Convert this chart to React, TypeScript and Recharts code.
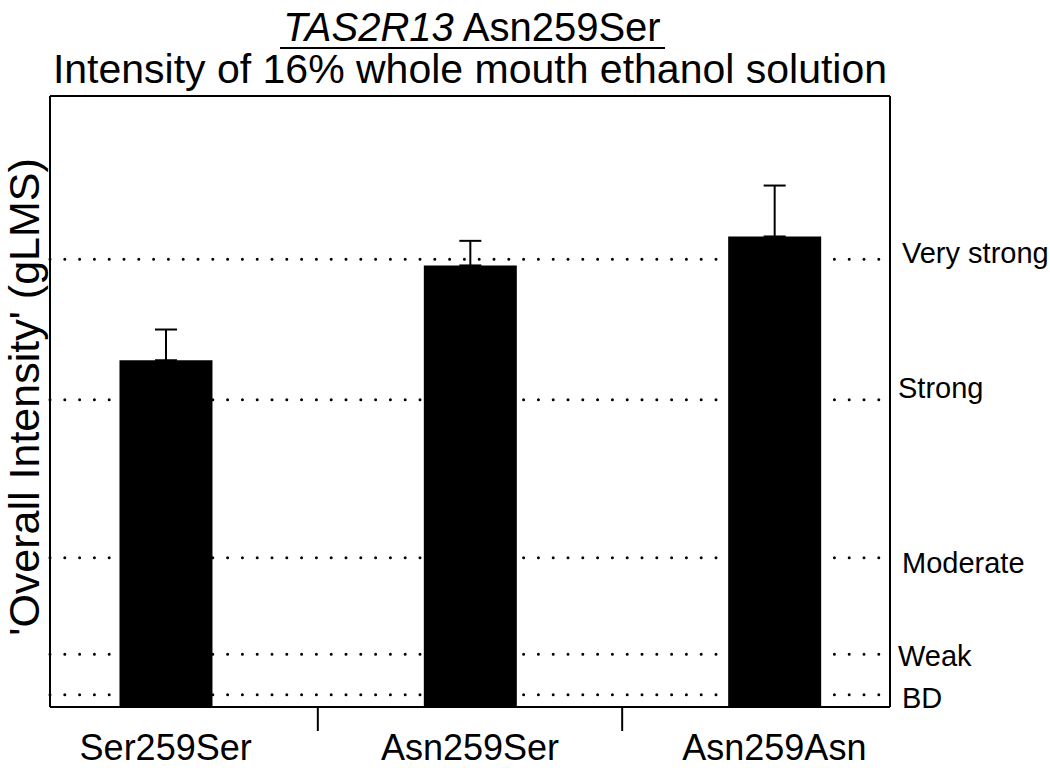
import React from 'react';
import {
  BarChart, Bar, XAxis, YAxis, ReferenceLine, ErrorBar,
} from 'recharts';

// genotype groups and gLMS intensity (mean, upper SEM)
const genotypes = ['Ser259Ser', 'Asn259Ser', 'Asn259Asn'];
const meanIntensity = [39.5, 50.3, 53.6];
const upperError = [3.5, 2.8, 5.8];

// gLMS descriptor anchors
const gLmsLabels = ['BD', 'Weak', 'Moderate', 'Strong', 'Very strong'];
const gLmsValues = [1.4, 6, 17, 35, 51];

const FONT = '"Liberation Sans", Arial, Helvetica, sans-serif';

// small nudges so the descriptor labels sit like the original
const labelNudge: Record<string, { dx: number; dy: number }> = {
  'BD': { dx: 12, dy: 3 },
  'Weak': { dx: 8, dy: 2 },
  'Moderate': { dx: 12, dy: 5 },
  'Strong': { dx: 8, dy: -12 },
  'Very strong': { dx: 12, dy: -6 },
};

const chartData = genotypes.map((g, i) => ({
  pos: i,
  name: g,
  mean: meanIntensity[i],
  err: [0, upperError[i]],
}));

function GenotypeTick({ x, y, payload }: any) {
  const v = payload.value;
  if (Number.isInteger(v)) {
    return (
      <text x={x} y={y + 53} textAnchor="middle" fontFamily={FONT} fontSize={36} fill="#000">
        {genotypes[v]}
      </text>
    );
  }
  return <line x1={x} x2={x} y1={y} y2={y + 24} stroke="#000" strokeWidth={2} />;
}

function DescriptorTick({ x, y, payload }: any) {
  const idx = gLmsValues.indexOf(payload.value);
  const label = gLmsLabels[idx];
  const n = labelNudge[label] || { dx: 10, dy: 0 };
  return (
    <text x={x + n.dx} y={y + n.dy} dominantBaseline="central" fontFamily={FONT} fontSize={29} fill="#000">
      {label}
    </text>
  );
}

const frameLine = { stroke: '#000', strokeWidth: 2 };

export default function App() {
  return (
    <div style={{ position: 'absolute', left: 0, top: 0, width: 1050, height: 768, background: '#fff' }}>
      <BarChart
        width={1050}
        height={768}
        data={chartData}
        margin={{ top: 95, right: 159, bottom: 0, left: 49 }}
      >
        <XAxis
          xAxisId="bottom"
          dataKey="pos"
          type="number"
          domain={[-0.38, 2.38]}
          ticks={[0, 0.5, 1, 1.5, 2]}
          interval={0}
          tick={<GenotypeTick />}
          tickLine={false}
          tickSize={0}
          tickMargin={0}
          height={61}
          axisLine={frameLine}
          allowDataOverflow
        />
        <XAxis
          xAxisId="top"
          orientation="top"
          dataKey="pos"
          type="number"
          domain={[-0.38, 2.38]}
          tick={false}
          tickLine={false}
          height={1}
          axisLine={frameLine}
        />
        <YAxis
          yAxisId="left"
          domain={[0, 69.6]}
          ticks={gLmsValues}
          tick={false}
          tickLine={false}
          width={1}
          axisLine={frameLine}
          allowDataOverflow
        />
        <YAxis
          yAxisId="right"
          orientation="right"
          domain={[0, 69.6]}
          ticks={gLmsValues}
          interval={0}
          tick={<DescriptorTick />}
          tickLine={false}
          tickSize={0}
          tickMargin={0}
          width={1}
          axisLine={frameLine}
          allowDataOverflow
        />
        {gLmsValues.map((v) => (
          <ReferenceLine
            key={v}
            xAxisId="bottom"
            yAxisId="left"
            y={v}
            stroke="#000"
            strokeWidth={3}
            strokeLinecap="round"
            strokeDasharray="0 14.8"
          />
        ))}
        <Bar
          xAxisId="bottom"
          yAxisId="left"
          dataKey="mean"
          fill="#000"
          barSize={93}
          isAnimationActive={false}
        >
          <ErrorBar dataKey="err" direction="y" width={11} stroke="#000" strokeWidth={2} />
        </Bar>
      </BarChart>
      <svg
        width={1050}
        height={768}
        style={{ position: 'absolute', left: 0, top: 0, pointerEvents: 'none' }}
      >
        <text x={472} y={41} textAnchor="middle" fontFamily={FONT} fontSize={40} fill="#000">
          <tspan fontStyle="italic">TAS2R13</tspan> Asn259Ser
        </text>
        <line x1={280} x2={665} y1={48} y2={48} stroke="#000" strokeWidth={2} />
        <text x={470} y={83} textAnchor="middle" fontFamily={FONT} fontSize={41} fill="#000">
          Intensity of 16% whole mouth ethanol solution
        </text>
        <text
          x={39}
          y={397}
          textAnchor="middle"
          fontFamily={FONT}
          fontSize={43}
          fill="#000"
          transform="rotate(-90, 39, 397)"
        >
          'Overall Intensity' (gLMS)
        </text>
      </svg>
    </div>
  );
}
